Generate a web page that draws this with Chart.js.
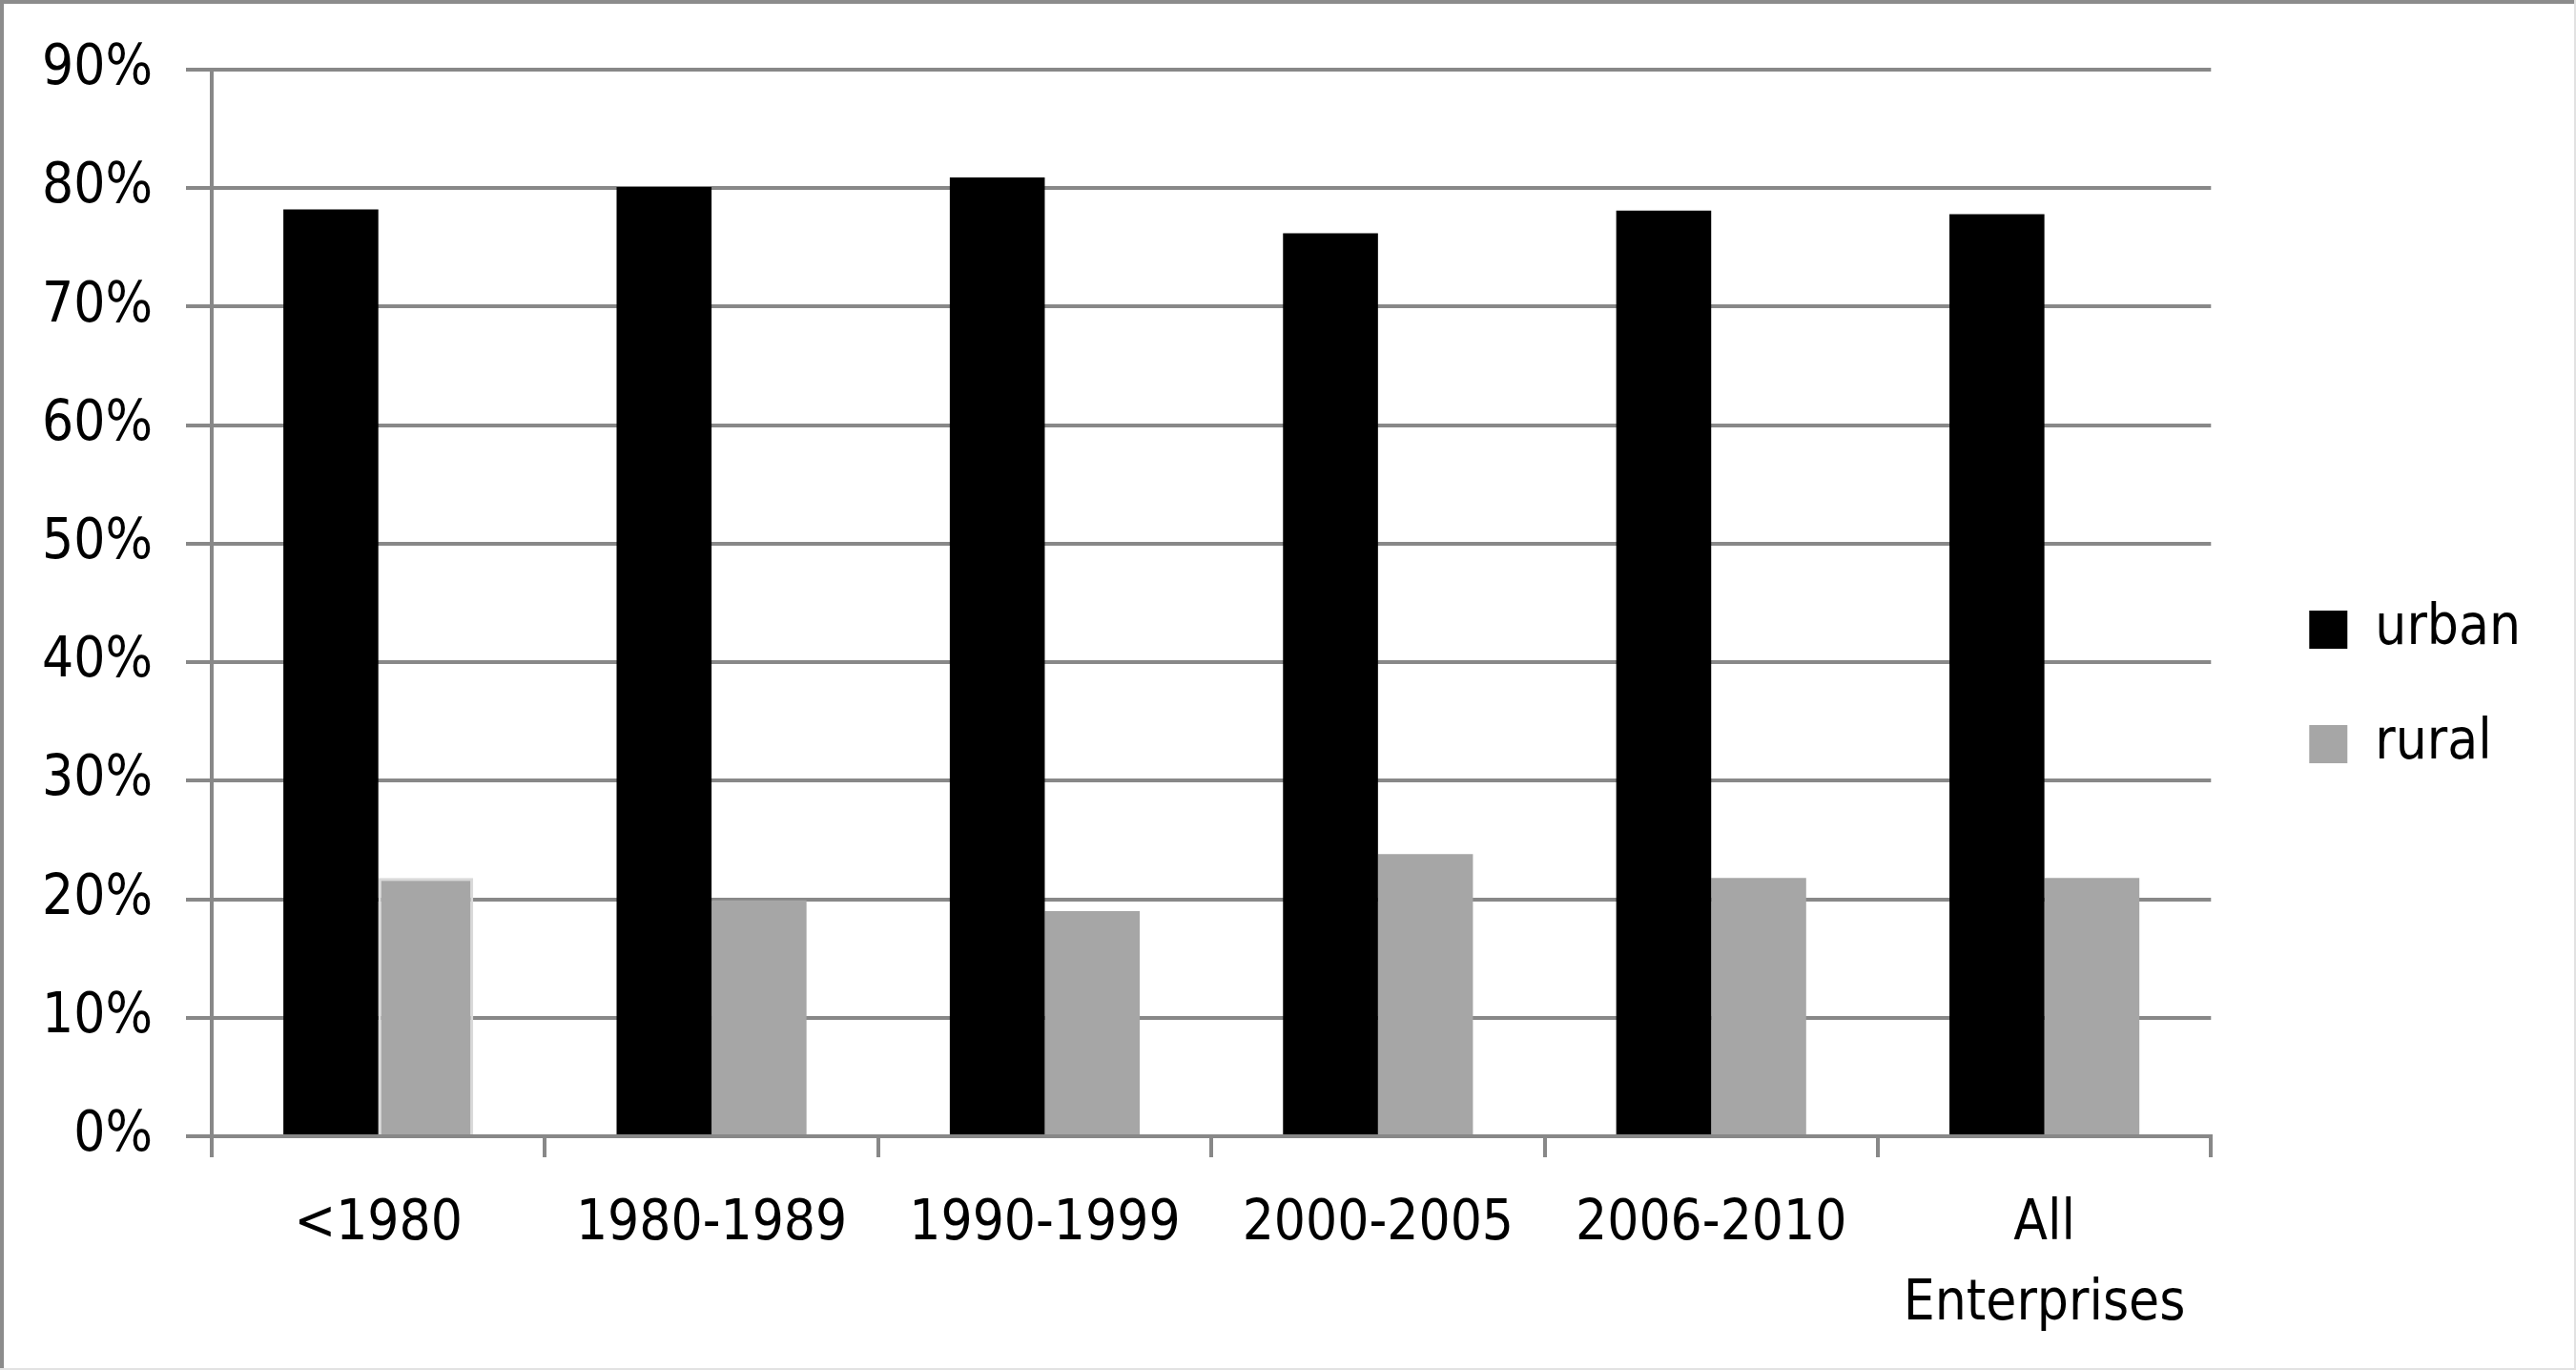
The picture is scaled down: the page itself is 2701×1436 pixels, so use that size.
<!DOCTYPE html>
<html>
<head>
<meta charset="utf-8">
<title>urban / rural</title>
<script src="https://cdn.jsdelivr.net/npm/chart.js@4.4.1/dist/chart.umd.min.js"></script>
<style>
  html, body { margin: 0; padding: 0; background: #fff; }
  #wrap { width: 2701px; height: 1436px; position: relative; }
</style>
</head>
<body>
<div id="wrap"><canvas id="barChart"></canvas></div>
<script>
// values (percent)
const categories = ['<1980', '1980-1989', '1990-1999', '2000-2005', '2006-2010', ['All', 'Enterprises']];
const urban = [78.2, 80.1, 80.9, 76.2, 78.1, 77.8];
const rural = [21.8, 19.9, 19.0, 23.8, 21.8, 21.8];
const seriesNames = ['urban', 'rural'];
const yTicks = [0, 10, 20, 30, 40, 50, 60, 70, 80, 90];

const FONT = "'DejaVu Sans Condensed', 'DejaVu Sans', sans-serif";
const GRID = '#888888';

Chart.defaults.color = '#000';
Chart.defaults.font.family = FONT;
Chart.defaults.font.size = 58;

// grey frame round the whole picture, darker on top and left
const frame = {
    id: 'frame',
    afterDraw(chart) {
        const {ctx, width, height} = chart;
        ctx.save();
        ctx.fillStyle = '#8c8c8c';
        ctx.fillRect(0, 0, width, 4);
        ctx.fillRect(0, 0, 4, height);
        ctx.fillStyle = '#e2e2e2';
        ctx.fillRect(width - 2, 0, 2, height);
        ctx.fillRect(0, height - 2, width, 2);
        ctx.restore();
    }
};

// move the legend to where excel had it: a bit right of the plot,
// its two rows centred around y = 720
const legendShift = {
    id: 'legendShift',
    afterLayout(chart) {
        const lg = chart.legend;
        const dx = chart.chartArea.right + 41 - lg.left;
        const dy = 720 - (lg.top + lg.bottom) / 2;
        lg.left += dx;
        lg.right += dx;
        lg.top += dy;
        lg.bottom += dy;
    }
};

function createBarChart() {
    const ctx = document.getElementById('barChart').getContext('2d');
    new Chart(ctx, {
        type: 'bar',
        data: {
            labels: categories,
            datasets: [{
                label: seriesNames[0],
                data: urban,
                backgroundColor: '#000000',
                borderWidth: 0
            }, {
                label: seriesNames[1],
                data: rural,
                backgroundColor: '#a6a6a6',
                borderColor: '#d9d9d9',
                // only the first rural bar has the light outline
                borderWidth: c => c.dataIndex === 0 ? 3 : 0
            }]
        },
        options: {
            responsive: true,
            maintainAspectRatio: false,
            animation: false,
            devicePixelRatio: 1,
            layout: {
                padding: {left: 0, right: 89, top: 73, bottom: 0}
            },
            datasets: {
                bar: {
                    categoryPercentage: 0.57,
                    barPercentage: 1.0
                }
            },
            scales: {
                x: {
                    grid: {
                        display: true,
                        drawOnChartArea: false,
                        drawTicks: true,
                        tickLength: 22,
                        color: GRID,
                        lineWidth: 4
                    },
                    border: {display: true, color: GRID, width: 4},
                    ticks: {
                        padding: 29,
                        maxRotation: 0,
                        autoSkip: false,
                        font: {size: 58, lineHeight: 1.45}
                    },
                    afterFit(scale) {
                        scale.height = 245;
                    }
                },
                y: {
                    min: 0,
                    max: 90,
                    afterBuildTicks(scale) {
                        scale.ticks = yTicks.map(v => ({value: v}));
                    },
                    grid: {
                        color: GRID,
                        lineWidth: 4,
                        drawTicks: true,
                        tickLength: 27
                    },
                    border: {display: true, color: GRID, width: 4},
                    ticks: {
                        padding: 35,
                        font: {size: 58},
                        callback: v => v + '%'
                    },
                    afterFit(scale) {
                        scale.width = 222;
                    }
                }
            },
            plugins: {
                legend: {
                    position: 'right',
                    labels: {
                        boxWidth: 40,
                        boxHeight: 40,
                        padding: 62,
                        color: '#000',
                        font: {size: 58},
                        // plain swatches, no outline
                        generateLabels(chart) {
                            const items = Chart.defaults.plugins.legend.labels.generateLabels(chart);
                            items.forEach(item => { item.lineWidth = 0; });
                            return items;
                        }
                    }
                },
                title: {display: false},
                tooltip: {enabled: false}
            }
        },
        plugins: [frame, legendShift]
    });
}

document.addEventListener('DOMContentLoaded', createBarChart);
</script>
</body>
</html>
